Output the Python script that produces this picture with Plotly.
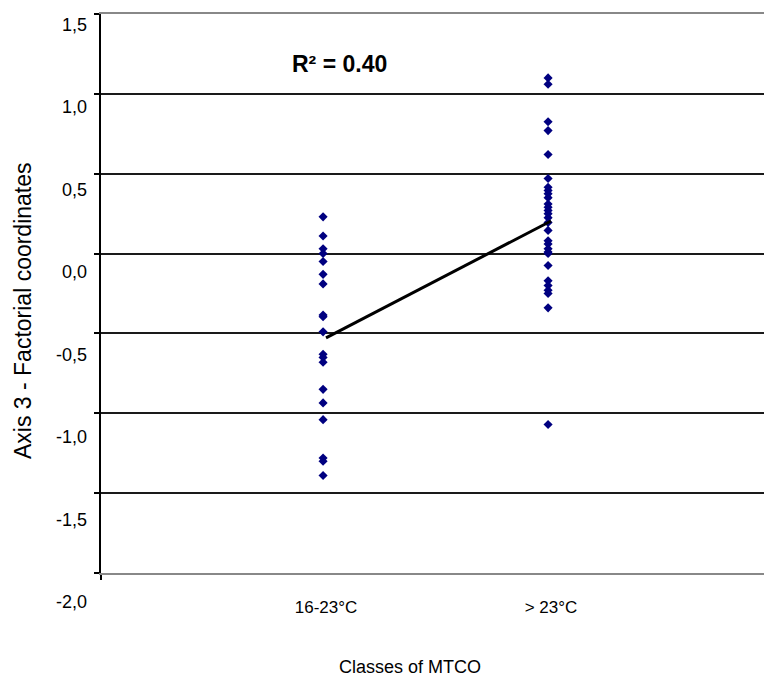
import plotly.graph_objects as go

# ---- data ----
CATEGORIES = ["16-23°C", "> 23°C"]
CAT_POS = [1, 2]
GROUP1_Y = [0.23, 0.11, 0.03, 0.00, -0.05, -0.13, -0.19, -0.385, -0.395, -0.49,
            -0.63, -0.65, -0.68, -0.85, -0.935, -1.04, -1.28, -1.30, -1.39]
GROUP2_Y = [1.10, 1.06, 0.825, 0.77, 0.62, 0.47, 0.415, 0.395, 0.375, 0.35,
            0.31, 0.29, 0.27, 0.25, 0.225, 0.195, 0.145, 0.08, 0.06, 0.03,
            0.01, 0.00, -0.075, -0.17, -0.20, -0.23, -0.25, -0.34, -1.07]
Y_TICK_VALUES = [-2.0, -1.5, -1.0, -0.5, 0.0, 0.5, 1.0, 1.5]
Y_TICK_LABELS = ["-2,0", "-1,5", "-1,0", "-0,5", "0,0", "0,5", "1,0", "1,5"]
R2_TEXT = "R² = 0.40"
X_TITLE = "Classes of MTCO"
Y_TITLE = "Axis 3 - Factorial coordinates"

FONT = "Arial, Liberation Sans, sans-serif"
POINT_OFFSET = -0.013

means = [sum(GROUP1_Y) / len(GROUP1_Y), sum(GROUP2_Y) / len(GROUP2_Y)]

fig = go.Figure()
fig.add_trace(go.Scatter(
    x=[CAT_POS[0] + POINT_OFFSET] * len(GROUP1_Y) + [CAT_POS[1] + POINT_OFFSET] * len(GROUP2_Y),
    y=GROUP1_Y + GROUP2_Y,
    mode="markers",
    marker=dict(symbol="diamond", size=7, color="#000080"),
    showlegend=False,
))
fig.add_trace(go.Scatter(
    x=CAT_POS, y=means, mode="lines",
    line=dict(color="black", width=3), showlegend=False,
))

annotations = []
for v, t in zip(Y_TICK_VALUES, Y_TICK_LABELS):
    annotations.append(dict(
        x=0, xref="paper", y=v, yref="y", text=t, showarrow=False,
        xanchor="right", yanchor="middle", xshift=-12,
        yshift=-(11 + (1.5 - v) * 5.14),
        font=dict(family=FONT, size=18, color="black"),
    ))
annotations.append(dict(
    x=1.058, xref="x", y=1.19, yref="y", text="<b>" + R2_TEXT + "</b>",
    showarrow=False, xanchor="center", yanchor="middle",
    font=dict(family=FONT, size=23, color="black"),
))
annotations.append(dict(
    x=(410 - 101) / 663, xref="paper", y=-0.168, yref="paper", text=X_TITLE,
    showarrow=False, xanchor="center", yanchor="middle",
    font=dict(family=FONT, size=18, color="black"),
))
annotations.append(dict(
    x=-0.1176, xref="paper", y=0.4687, yref="paper", text=Y_TITLE,
    showarrow=False, xanchor="center", yanchor="middle", textangle=-90,
    font=dict(family=FONT, size=23, color="black"),
))

fig.update_layout(
    width=764, height=682,
    margin=dict(l=101, r=0, t=14, b=109),
    paper_bgcolor="white", plot_bgcolor="white",
    annotations=annotations,
    hovermode=False,
    xaxis=dict(
        range=[0, 663 / 225], tickvals=CAT_POS, ticktext=CATEGORIES,
        ticks="", showgrid=False, zeroline=False,
        showline=True, linecolor="#888888", linewidth=1.5, mirror=True,
        tickfont=dict(family=FONT, size=17, color="black"),
        ticklabelstandoff=18,
        minor=dict(tickmode="array", tickvals=[0], ticks="outside",
                   ticklen=5, tickcolor="black", tickwidth=1.5, showgrid=False),
    ),
    yaxis=dict(
        range=[-2, 1.5], tickvals=Y_TICK_VALUES, showticklabels=False,
        ticks="outside", ticklen=5, tickcolor="black", tickwidth=1.5,
        showline=True, linecolor="black", linewidth=1.5,
        showgrid=True, gridcolor="#1a1a1a", gridwidth=1.5, zeroline=False,
    ),
)

fig.write_html(
    "out.html",
    config={"displayModeBar": False},
    post_script="document.body.style.margin='0';document.body.style.overflow='hidden';",
)
